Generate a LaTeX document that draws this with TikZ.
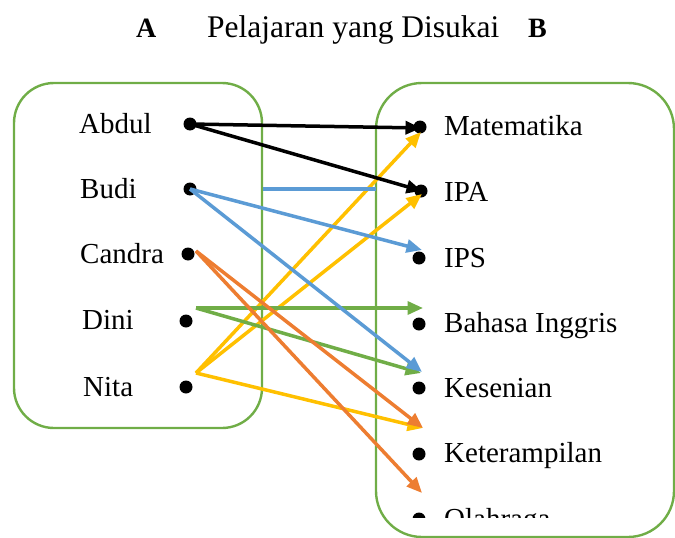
\documentclass[tikz,border=0pt]{standalone}
\usepackage{fontspec}
\setmainfont{Liberation Serif}
\usetikzlibrary{arrows.meta}
\definecolor{cBlue}{RGB}{91,155,213}
\definecolor{cOrange}{RGB}{237,125,49}
\definecolor{cGreen}{RGB}{112,173,71}
\definecolor{cYellow}{RGB}{255,192,0}
\begin{document}
\begin{tikzpicture}[x=1pt,y=-1pt,
  lbl/.style={anchor=base west,inner sep=0pt,font=\fontsize{29}{34}\selectfont},
  ttl/.style={anchor=base west,inner sep=0pt,font=\fontsize{31.5}{36}\selectfont},
  setname/.style={anchor=base west,inner sep=0pt,font=\bfseries\fontsize{28}{32}\selectfont},
  dotnode/.style={circle,fill=black,inner sep=0pt,minimum size=13pt},
  setbox/.style={draw=cGreen,line width=2.4pt},
  link/.style={line width=3.5pt,-{Triangle[length=15.5pt,width=13pt]}},
  bar/.style={line width=3.2pt},
]
\useasboundingbox (0,0) rectangle (675,538);

% heading
\node[setname] (setA) at (136,37) {A};
\node[ttl] (title) at (207,37) {Pelajaran yang Disukai};
\node[setname] (setB) at (528,37) {B};

% the two sets
\draw[setbox,rounded corners=40pt] (14,83) rectangle (262,428);
\draw[setbox,rounded corners=46pt] (376,83) rectangle (674,537);

% domain: students
\node[lbl] (abdul)  at (79,133) {Abdul};
\node[lbl] (budi)   at (80,198) {Budi};
\node[lbl] (candra) at (80,263) {Candra};
\node[lbl] (dini)   at (82,329) {Dini};
\node[lbl] (nita)   at (83,396) {Nita};
\node[dotnode] (dA) at (190,124) {};
\node[dotnode] (dB) at (190,189) {};
\node[dotnode] (dC) at (188,254) {};
\node[dotnode] (dD) at (186,321) {};
\node[dotnode] (dN) at (186,387) {};

% codomain: subjects
\node[lbl] (mat) at (444,135) {Matematika};
\node[lbl] (ipa) at (444,201) {IPA};
\node[lbl] (ips) at (444,267) {IPS};
\node[lbl] (big) at (444,332) {Bahasa Inggris};
\node[lbl] (ksn) at (444,397) {Kesenian};
\node[lbl] (ktr) at (444,462) {Keterampilan};
\node[dotnode] (eM) at (420,127) {};
\node[dotnode] (eA) at (421,191) {};
\node[dotnode] (eS) at (419,258) {};
\node[dotnode] (eB) at (419,324) {};
\node[dotnode] (eK) at (419,388) {};
\node[dotnode] (eT) at (419,454) {};
\begin{scope}
  \clip (380,480) rectangle (675,517);
  \node[lbl] (olr) at (444,528) {Olahraga};
  \node[dotnode] (eO) at (419,519) {};
\end{scope}

% start and end points of the connectors
\coordinate (sC) at (196,251);
\coordinate (sD) at (196,308);
\coordinate (sN) at (196,373);
\coordinate (tMk) at (421,128);
\coordinate (tMy) at (421,132);
\coordinate (tAk) at (422,191);
\coordinate (tAy) at (422,194);
\coordinate (tS)  at (422,250);
\coordinate (tB)  at (423,308);
\coordinate (tKb) at (422,372);
\coordinate (tKg) at (421,373);
\coordinate (tT)  at (423,428);
\coordinate (tO)  at (422,493);
\coordinate (hL)  at (263,189);
\coordinate (hR)  at (376,189);

% relation arrows
\draw[link,cYellow] (sN) -- (tMy);
\draw[link,cYellow] (sN) -- (tAy);
\draw[link,cYellow] (sN) -- (tT);
\draw[link,cGreen] (sD) -- (tB);
\draw[link,cGreen] (sD) -- (tKg);
\draw[link,cOrange] (sC) -- (tT);
\draw[link,cOrange] (sC) -- (tO);
\draw[bar,cBlue] (hL) -- (hR);
\draw[link,cBlue] (dB.center) -- (tS);
\draw[link,cBlue] (dB.center) -- (tKb);
\draw[link,black] (dA.center) -- (tMk);
\draw[link,black] (dA.center) -- (tAk);
\end{tikzpicture}
\end{document}
